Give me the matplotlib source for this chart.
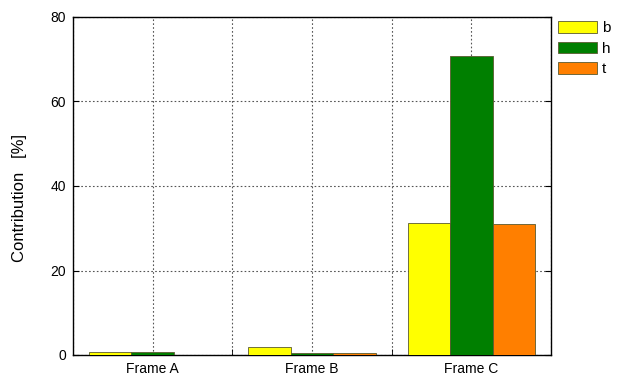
import numpy as np
import matplotlib.pyplot as plt
from matplotlib.patches import Patch
from matplotlib.ticker import MultipleLocator

plt.rcParams['font.family'] = ['Liberation Sans', 'DejaVu Sans']

frames = ["Frame A", "Frame B", "Frame C"]
series = ["b", "h", "t"]
b_vals = [0.6, 1.8, 31.3]
h_vals = [0.6, 0.5, 70.8]
t_vals = [0.0, 0.5, 30.9]
colors = ["#ffff00", "#007f00", "#ff7f00"]

fig = plt.figure(figsize=(6.23, 3.76), dpi=100)
ax = fig.add_axes([73/623, 21/376, 478/623, 338/376])

x = np.arange(len(frames))
w = 0.8 / 3
for i, (vals, c) in enumerate(zip([b_vals, h_vals, t_vals], colors)):
    ax.bar(x + (i - 1) * w, vals, width=w, color=c, edgecolor="#5a5a30",
           linewidth=0.6, zorder=3)

ax.set_xlim(-0.5, 2.5)
ax.set_ylim(0, 80)
ax.set_xticks(x)
ax.set_xticklabels(frames)
ax.xaxis.set_minor_locator(MultipleLocator(0.5))
ax.set_yticks([0, 20, 40, 60, 80])

ax.grid(True, which="both", axis="x", linestyle=(0, (1.5, 2)), color="#555555", linewidth=0.8)
ax.grid(True, which="major", axis="y", linestyle=(0, (1.5, 2)), color="#555555", linewidth=0.8)
ax.tick_params(axis="both", which="both", direction="in", labelsize=10, pad=5)
ax.tick_params(axis="x", which="major", length=0)
ax.tick_params(axis="x", which="minor", length=4)
ax.tick_params(axis="y", right=True, length=4)
for s in ax.spines.values():
    s.set_linewidth(1.0)

ax.set_ylabel("Contribution   [%]", fontsize=12)
ax.yaxis.set_label_coords(-0.096, 0.464)

handles = [Patch(facecolor=c, edgecolor="#5a5a30", linewidth=0.6) for c in colors]
fig.legend(handles, series, loc="upper left", bbox_to_anchor=(555/623, 1 - 18/376),
           frameon=False, fontsize=11, handlelength=2.55, handleheight=0.78,
           labelspacing=0.42, handletextpad=0.3, borderaxespad=0, borderpad=0.2)

fig.savefig("out.png", dpi=100)
